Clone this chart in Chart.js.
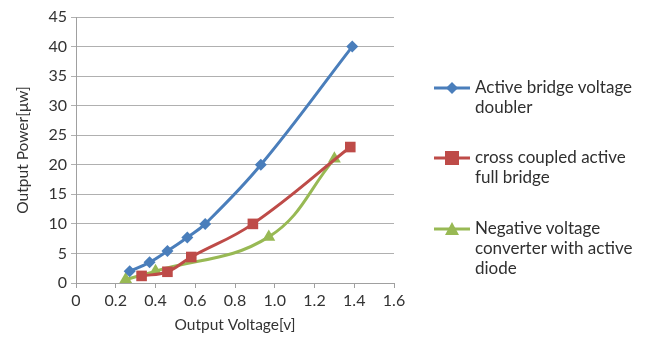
<!DOCTYPE html>
<html>
<head>
<meta charset="utf-8">
<script src="https://cdn.jsdelivr.net/npm/chart.js@4.4.1/dist/chart.umd.min.js"></script>
<style>
    html, body { margin: 0; padding: 0; background: #fff; }
    #wrap { position: relative; width: 649px; height: 338px; }
    #chart { position: absolute; left: 0; top: 0; }
    #legend { position: absolute; left: 432px; top: 77px; font-family: Lato, "Open Sans", sans-serif; font-size: 17px; color: #2f2f2f; }
    .item { position: absolute; left: 0; width: 217px; }
    .item svg { position: absolute; left: 0; top: 3px; }
    .item span { position: absolute; left: 43px; top: 0; line-height: 20px; white-space: nowrap; }
</style>
</head>
<body>
<div id="wrap">
    <canvas id="chart" width="649" height="338"></canvas>
    <div id="legend"></div>
</div>
<script>
// values (x = output voltage [V], y = output power [uW])
const doublerX = [0.27, 0.37, 0.46, 0.56, 0.65, 0.93, 1.39];
const doublerY = [2, 3.5, 5.4, 7.7, 10, 20, 40];
const fullBridgeX = [0.33, 0.46, 0.58, 0.89, 1.38];
const fullBridgeY = [1.2, 1.9, 4.4, 10, 23];
const negConvX = [0.25, 0.40, 0.97, 1.30];
const negConvY = [0.6, 2, 7.8, 21];

const seriesNames = [
    ['Active bridge voltage', 'doubler'],
    ['cross coupled active', 'full bridge'],
    ['Negative voltage', 'converter with active', 'diode']
];
const xTicks = [0, 0.2, 0.4, 0.6, 0.8, 1, 1.2, 1.4, 1.6];
const yTicks = [0, 5, 10, 15, 20, 25, 30, 35, 40, 45];

const colors = ['#4a7ebb', '#be4b48', '#98b954'];
const markers = ['rectRot', 'rect', 'triangle'];
const markerSize = [6, 7.5, 7.5];

function toPoints(xs, ys) {
    return xs.map((x, i) => ({ x: x, y: ys[i] }));
}

const seriesData = [
    toPoints(doublerX, doublerY),
    toPoints(fullBridgeX, fullBridgeY),
    toPoints(negConvX, negConvY)
];

const tickFont = { family: 'Lato, "Open Sans", sans-serif', size: 16 };
const titleFont = { family: 'Lato, "Open Sans", sans-serif', size: 15.5 };

new Chart(document.getElementById('chart').getContext('2d'), {
    type: 'scatter',
    data: {
        datasets: seriesData.map((pts, i) => ({
            label: seriesNames[i].join(' '),
            data: pts,
            showLine: true,
            tension: 0.4,
            borderColor: colors[i],
            backgroundColor: colors[i],
            borderWidth: 3,
            pointStyle: markers[i],
            pointRadius: markerSize[i],
            pointHoverRadius: markerSize[i],
            pointBorderWidth: 0
        }))
    },
    options: {
        responsive: false,
        animation: false,
        layout: { padding: { left: 14, right: 255, top: 17, bottom: 0 } },
        plugins: { legend: { display: false }, tooltip: { enabled: false } },
        scales: {
            x: {
                type: 'linear',
                min: 0,
                max: 1.6,
                afterBuildTicks: axis => { axis.ticks = xTicks.map(v => ({ value: v })); },
                ticks: { color: '#333', font: tickFont, padding: 3, maxRotation: 0 },
                grid: { drawOnChartArea: false, drawTicks: true, tickLength: 5, color: '#a0a0a0' },
                border: { color: '#a0a0a0' },
                title: { display: true, text: 'Output Voltage[v]', color: '#333', font: titleFont, padding: { top: 1 } },
                afterFit: axis => { axis.height = 55; }
            },
            y: {
                min: 0,
                max: 45,
                afterBuildTicks: axis => { axis.ticks = yTicks.map(v => ({ value: v })); },
                ticks: { color: '#333', font: tickFont, padding: 4 },
                grid: { color: '#b0b0b0', drawTicks: true, tickLength: 5 },
                border: { color: '#a0a0a0' },
                title: { display: true, text: 'Output Power[\u03bcw]', color: '#333', font: titleFont, padding: 0 },
                afterFit: axis => { axis.width = 62; }
            }
        }
    }
});

// legend on the right, wrapped like the original
const legend = document.getElementById('legend');
const legendTops = [0, 70, 141];
seriesNames.forEach((lines, i) => {
    const item = document.createElement('div');
    item.className = 'item';
    item.style.top = legendTops[i] + 'px';
    let mark = '';
    if (i === 0) mark = '<polygon points="20,2 26,8 20,14 14,8" fill="' + colors[i] + '"/>';
    if (i === 1) mark = '<rect x="13" y="1" width="14" height="14" fill="' + colors[i] + '"/>';
    if (i === 2) mark = '<polygon points="20,1 27,14 13,14" fill="' + colors[i] + '"/>';
    item.innerHTML = '<svg width="40" height="16"><line x1="2" y1="8" x2="38" y2="8" stroke="' + colors[i] +
        '" stroke-width="3"/>' + mark + '</svg>' +
        '<span>' + lines.join('<br>') + '</span>';
    legend.appendChild(item);
});
</script>
</body>
</html>
